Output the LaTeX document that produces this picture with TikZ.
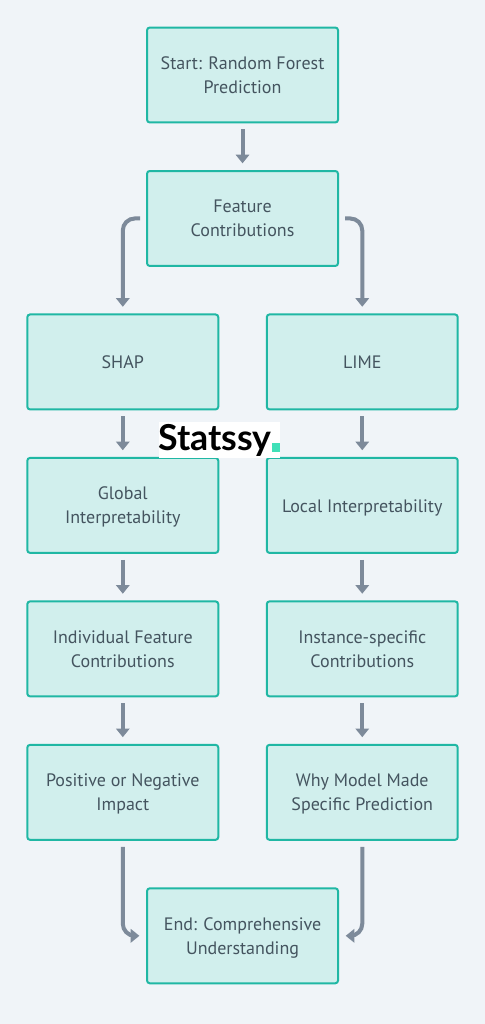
\documentclass[tikz,border=0pt]{standalone}
\usepackage{fontspec}
\setmainfont{PT Sans}
\newfontfamily\logofont{Lato}
\usetikzlibrary{positioning,arrows.meta}
\definecolor{pagebg}{HTML}{F0F4F8}
\definecolor{boxfill}{HTML}{D1EFED}
\definecolor{boxline}{HTML}{20B7A4}
\definecolor{flowline}{HTML}{7D8A9A}
\definecolor{boxtext}{HTML}{44545F}
\definecolor{logodot}{HTML}{40E0B8}
\tikzset{
    stepbox/.style={draw=boxline, fill=boxfill, rectangle, rounded corners=2pt, line width=1.5pt, text=boxtext, align=center, text depth=0pt, execute at begin node={\rule{0pt}{10pt}}, font=\fontsize{13.5}{18}\selectfont},
    flow/.style={-{Triangle[width=10pt, length=6.5pt]}, line width=3pt, color=flowline, rounded corners=9pt, shorten <=4.5pt, shorten >=5pt},
}

\begin{document}
\begin{tikzpicture}[node distance=34.9pt and 34.9pt, minimum height=71.2pt, minimum width=143.2pt]
        \fill[pagebg] (0pt,0pt) rectangle (363.75pt,-768pt);

        \node[stepbox] (start) at (181.9pt,-56.25pt) {Start: Random Forest\\Prediction};
        \node[stepbox, below=of start] (feature) {Feature\\Contributions};
        \node[stepbox, below=of feature, xshift=-89.8pt] (shap) {SHAP};
        \node[stepbox, right=of shap] (lime) {LIME};
        \node[stepbox, below=of shap] (global) {Global\\Interpretability};
        \node[stepbox, below=of lime] (local) {Local Interpretability};
        \node[stepbox, below=of global] (individual) {Individual Feature\\Contributions};
        \node[stepbox, below=of local] (instance) {Instance-specific\\Contributions};
        \node[stepbox, below=of individual] (impact) {Positive or Negative\\Impact};
        \node[stepbox, below=of instance] (why) {Why Model Made\\Specific Prediction};
        \node[stepbox, below=of impact, xshift=89.8pt] (end) {End: Comprehensive\\Understanding};

        \node[fill=white, inner sep=0pt, minimum height=27.5pt, minimum width=90.5pt, text=black, text height=19pt, text depth=4pt, font=\logofont\bfseries\fontsize{26.8}{27}\selectfont] (logo) at (164.6pt,-330pt) {Statssy\textcolor{logodot}{\raisebox{-1.2pt}{\rule{6.5pt}{6.8pt}}}};

        \draw[flow] (start) -- (feature);
        \draw[flow] (feature.west) -| (shap.north);
        \draw[flow] (feature.east) -| (lime.north);
        \draw[flow] (shap) -- (global);
        \draw[flow] (lime) -- (local);
        \draw[flow] (global) -- (individual);
        \draw[flow] (local) -- (instance);
        \draw[flow] (individual) -- (impact);
        \draw[flow] (instance) -- (why);
        \draw[flow] (impact.south) |- (end.west);
        \draw[flow] (why.south) |- (end.east);
    \end{tikzpicture}
\end{document}
